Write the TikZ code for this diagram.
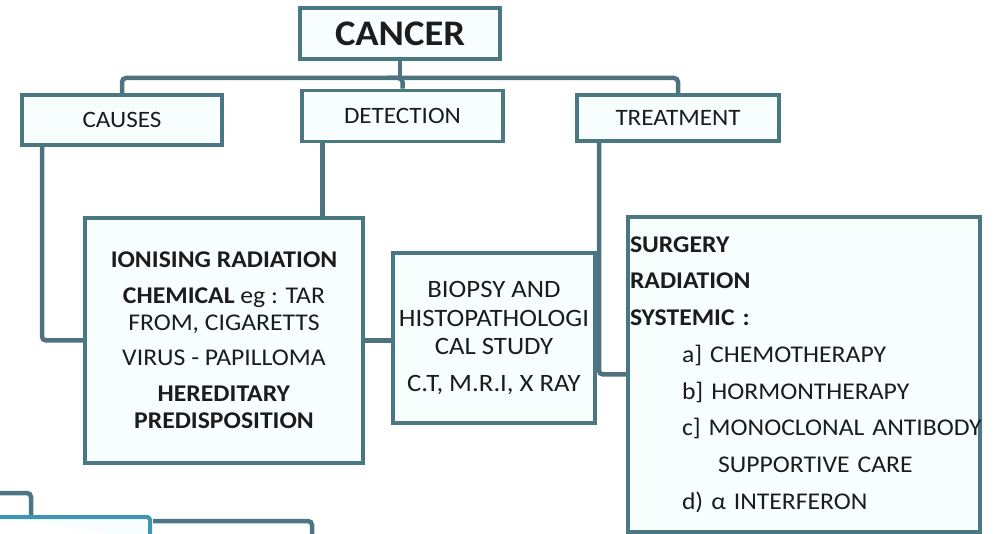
\documentclass[tikz,border=0pt]{standalone}
\usepackage{fontspec}
\setmainfont{Carlito}[FakeStretch=1.07]
\usetikzlibrary{backgrounds}
\definecolor{boxdraw}{RGB}{74,120,130}
\definecolor{boxfill}{RGB}{248,253,254}
\definecolor{conncol}{RGB}{78,114,128}
\definecolor{txt}{RGB}{28,28,28}
\definecolor{fragcol}{RGB}{62,150,174}
\begin{document}
\begin{tikzpicture}[x=1pt,y=-1pt,
  box/.style={draw=boxdraw, line width=3.5pt, fill=boxfill, text=txt, inner sep=0pt, align=center},
  link/.style={draw=conncol, line width=4.5pt, rounded corners=4pt},
  fraglink/.style={draw=conncol!90!fragcol, line width=4.5pt, rounded corners=4pt},
  fragbox/.style={draw=fragcol, line width=4pt, rounded corners=3pt, fill=boxfill}
]
\useasboundingbox (0,0) rectangle (996,534);

\node[box, minimum width=200pt, minimum height=51pt, font=\fontsize{36}{40}\selectfont\bfseries] (cancer) at (400,33.5) {CANCER};
\node[box, minimum width=200pt, minimum height=50pt, font=\fontsize{23.5}{26}\selectfont] (causes) at (122,120) {CAUSES};
\node[box, minimum width=201pt, minimum height=51pt, font=\fontsize{23.5}{26}\selectfont] (detection) at (402.5,116) {DETECTION};
\node[box, minimum width=202pt, minimum height=46pt, font=\fontsize{23.5}{26}\selectfont] (treatment) at (678,118) {TREATMENT};

\node[box, minimum width=278pt, minimum height=245pt, font=\fontsize{24}{27}\selectfont] (causesbox) at (224,340.5)
 {\textbf{IONISING RADIATION}\\[9pt]
  \textbf{CHEMICAL} eg : TAR\\
  FROM, CIGARETTS\\[8pt]
  VIRUS - PAPILLOMA\\[9pt]
  \textbf{HEREDITARY}\\
  \textbf{PREDISPOSITION}};

\node[box, minimum width=202pt, minimum height=170pt, font=\fontsize{25}{28.5}\selectfont] (biopsy) at (494,338)
 {BIOPSY AND\\
  HISTOPATHOLOGI\\
  CAL STUDY\\[8pt]
  C.T, M.R.I, X RAY};

\node[box, align=left, text width=348pt, inner xsep=2pt, minimum height=315pt, font=\fontsize{24}{36.7}\selectfont] (treatbox) at (804,374.5)
 {\textbf{SURGERY}\\
  \textbf{RADIATION}\\
  \textbf{SYSTEMIC :}\\
  \hspace*{52pt}\mbox{a] CHEMOTHERAPY}\\
  \hspace*{52pt}\mbox{b] HORMONTHERAPY}\\
  \hspace*{52pt}\mbox{c] MONOCLONAL ANTIBODY}\\
  \hspace*{88pt}\mbox{SUPPORTIVE CARE}\\
  \hspace*{52pt}\mbox{d) α INTERFERON}};

\coordinate (bar) at (400,78);
\coordinate (fa) at (0,493);
\coordinate (fb) at (31,517);
\coordinate (fc) at (0,517);
\coordinate (fd) at (150,540);
\coordinate (fe) at (153,521);
\coordinate (ff) at (312,540);

\begin{scope}[on background layer]
  \draw[link] (cancer.south) -- (bar);
  \draw[link] (causes.north) |- (bar) -| (treatment.north);
  \draw[link] (bar) -- (bar -| detection.north) -- (detection.north);
  \draw[link] ([xshift=-80pt]causes.south) |- (causesbox.west);
  \draw[link] ([xshift=-80pt]detection.south) -- ([xshift=-80pt]detection.south |- causesbox.north);
  \draw[link] (causesbox.east) -- (causesbox.east -| biopsy.west);
  \draw[link] ([xshift=-79pt]treatment.south) |- (treatbox.west);
  \draw[fraglink] (fa) -| (fb);
  \draw[fragbox] (fc) -| (fd);
  \draw[fraglink] (fe) -| (ff);
\end{scope}
\end{tikzpicture}
\end{document}
